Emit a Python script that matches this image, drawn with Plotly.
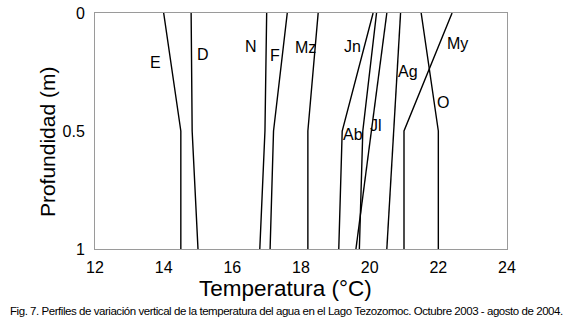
import plotly.graph_objects as go

depths = [0, 0.5, 1]
months = ["E", "D", "N", "F", "Mz", "Jn", "Ab", "Jl", "Ag", "O", "My"]
temps = {
    "E": [14.0, 14.5, 14.5],
    "D": [14.8, 14.83, 15.0],
    "N": [17.0, 16.95, 16.8],
    "F": [17.6, 17.2, 17.1],
    "Mz": [18.5, 18.2, 18.2],
    "Jn": [20.1, 19.2, 19.1],
    "Ab": [20.2, 19.8, 19.7],
    "Jl": [20.5, 20.05, 19.6],
    "Ag": [20.9, 20.7, 20.5],
    "O": [21.5, 22.0, 22.0],
    "My": [22.4, 21.0, 21.0],
}
label_x = [13.75, 15.15, 16.54, 17.23, 18.12, 19.49, 19.52, 20.19, 21.13, 22.14, 22.57]
label_y = [0.208, 0.174, 0.144, 0.178, 0.146, 0.140, 0.515, 0.475, 0.246, 0.379, 0.131]
x_ticks = [12, 14, 16, 18, 20, 22, 24]
y_ticks = [0, 0.5, 1]
y_tick_text = ["0", "0.5", "1"]
caption = "Fig. 7. Perfiles de variación vertical de la temperatura del agua en el Lago Tezozomoc. Octubre 2003 - agosto de 2004."

fig = go.Figure()
for m in months:
    fig.add_trace(go.Scatter(x=temps[m], y=depths, mode="lines",
                             line=dict(color="black", width=1.4),
                             showlegend=False, hoverinfo="skip"))

for m, lx, ly in zip(months, label_x, label_y):
    fig.add_annotation(x=lx, y=ly, text=m, showarrow=False,
                       font=dict(family="Liberation Sans, Arial", size=16, color="black"))

fig.add_annotation(xref="paper", yref="paper", x=0.463, y=-0.168, text="Temperatura (°C)",
                   showarrow=False, xanchor="center", yanchor="middle",
                   font=dict(family="Liberation Sans, Arial", size=22.5, color="black"))
fig.add_annotation(xref="paper", yref="paper", x=-0.1165, y=0.453, text="Profundidad (m)",
                   showarrow=False, xanchor="center", yanchor="middle", textangle=-90,
                   font=dict(family="Liberation Sans, Arial", size=21, color="black"))
fig.add_annotation(xref="paper", yref="paper", x=0.466, y=-0.2645,
                   text='<span style="letter-spacing:-0.45px">' + caption + '</span>',
                   showarrow=False, xanchor="center", yanchor="middle",
                   font=dict(family="Liberation Sans, Arial", size=11.5, color="black"))

axis_common = dict(showgrid=False, zeroline=False, showline=True, mirror=True,
                   linecolor="#9a9a9a", linewidth=1, ticks="", automargin=False,
                   ticklabeloverflow="allow",
                   tickfont=dict(family="Liberation Sans, Arial", size=16, color="black"))
fig.update_xaxes(range=[12, 24], tickvals=x_ticks, ticklabelstandoff=4, **axis_common)
fig.update_yaxes(range=[1, 0], tickvals=y_ticks, ticktext=y_tick_text, ticklabelstandoff=6, **axis_common)

fig.update_layout(width=572, height=324, margin=dict(l=95, r=65, t=13, b=75),
                  paper_bgcolor="white", plot_bgcolor="white")
# remove the browser's default 8px body margin so the figure sits at the page origin
fig.write_html("out.html", config={"displayModeBar": False},
               post_script="document.body.style.margin='0';")
